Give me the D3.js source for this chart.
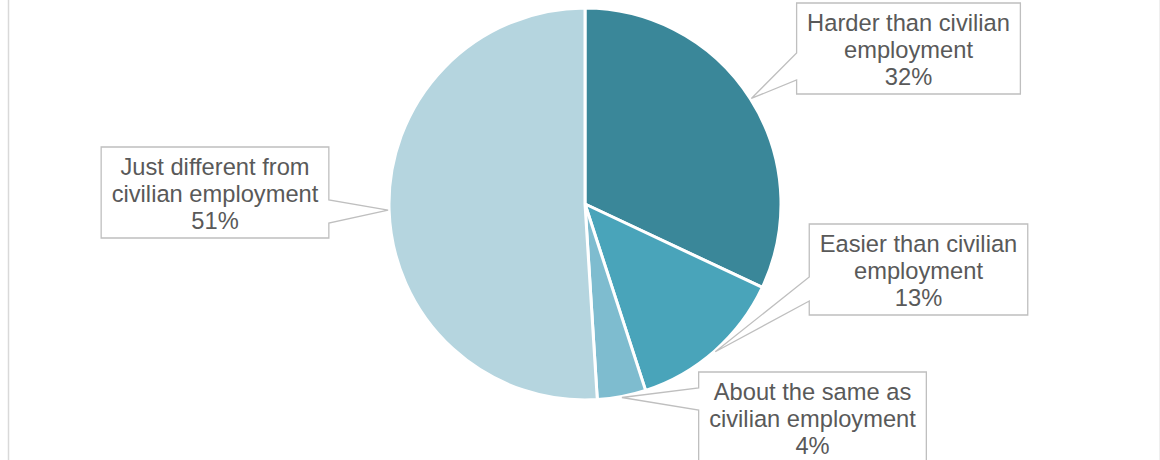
<!DOCTYPE html>
<html>
<head>
<meta charset="utf-8">
<script src="https://cdn.jsdelivr.net/npm/d3@7"></script>
<style>
  html, body { margin: 0; padding: 0; background: #fff; }
  svg { display: block; }
</style>
</head>
<body>
<div id="chart"></div>
<script>
// Data
const categories = [
  "Harder than civilian employment",
  "Easier than civilian employment",
  "About the same as civilian employment",
  "Just different from civilian employment"
];
const values = [32, 13, 4, 51];
const labelLines = [
  ["Harder than civilian", "employment"],
  ["Easier than civilian", "employment"],
  ["About the same as", "civilian employment"],
  ["Just different from", "civilian employment"]
];
const colors = ["#3a8799", "#49a4ba", "#7ebccf", "#b5d5df"];

// Layout of the callout boxes (centre x, top y, wedge base offsets, side)
const boxes = [
  { cx: 908.5, top: 3, wedge: [50, 77], side: "left" },
  { cx: 918.5, top: 224, wedge: [53, 77], side: "left" },
  { cx: 812.5, top: 372, wedge: [16, 38], side: "left" },
  { cx: 215, top: 147, wedge: [53, 76], side: "right" }
];

const width = 1160;
const height = 460;
const cx = 585, cy = 204, radius = 196;

const svg = d3.select("#chart").append("svg")
    .attr("width", width)
    .attr("height", height);

// Frame lines at the edges
svg.append("line")
    .attr("x1", 8.5).attr("x2", 8.5).attr("y1", 0).attr("y2", height)
    .attr("stroke", "#d9d9d9").attr("stroke-width", 1.5);
svg.append("line")
    .attr("x1", 1159.5).attr("x2", 1159.5).attr("y1", 0).attr("y2", height)
    .attr("stroke", "#efefef").attr("stroke-width", 1);

const pie = d3.pie().sort(null).value(d => d)(values);
const arc = d3.arc().innerRadius(0).outerRadius(radius);
const tipArc = d3.arc().innerRadius(197).outerRadius(197);

const g = svg.append("g").attr("transform", `translate(${cx},${cy})`);

g.selectAll("path")
    .data(pie)
    .enter().append("path")
    .attr("d", arc)
    .attr("fill", (d, i) => colors[i])
    .attr("stroke", "#fff")
    .attr("stroke-width", 3)
    .attr("stroke-linejoin", "round");

// Callouts
const lineH = 27;
const fontSize = 23.7;

pie.forEach((d, i) => {
  const b = boxes[i];
  const tip = tipArc.centroid(d);
  const tx = tip[0] + cx, ty = tip[1] + cy;
  const lines = labelLines[i].concat([values[i] + "%"]);

  const lg = svg.append("g");
  const path = lg.append("path")
      .attr("fill", "#fff")
      .attr("stroke", "#bfbfbf")
      .attr("stroke-width", 1.3);

  const text = lg.append("text")
      .attr("font-family", "'Liberation Sans', Arial, sans-serif")
      .attr("font-size", fontSize)
      .attr("fill", "#595959")
      .attr("text-anchor", "middle");

  lines.forEach((s, j) => {
    text.append("tspan")
        .attr("x", b.cx)
        .attr("y", b.top + 28 + j * lineH)
        .text(s);
  });

  let maxW = 0;
  text.selectAll("tspan").each(function() {
    maxW = Math.max(maxW, this.getComputedTextLength());
  });
  const w = maxW + 21;
  const h = 91;
  const x0 = b.cx - w / 2, x1 = b.cx + w / 2;
  const y0 = b.top, y1 = b.top + h;
  const wa = y0 + b.wedge[0], wb = y0 + b.wedge[1];

  let p;
  if (b.side === "left") {
    p = `M${x0},${y0}L${x1},${y0}L${x1},${y1}L${x0},${y1}L${x0},${wb}L${tx},${ty}L${x0},${wa}Z`;
  } else {
    p = `M${x0},${y0}L${x1},${y0}L${x1},${wa}L${tx},${ty}L${x1},${wb}L${x1},${y1}L${x0},${y1}Z`;
  }
  path.attr("d", p);
});
</script>
</body>
</html>
